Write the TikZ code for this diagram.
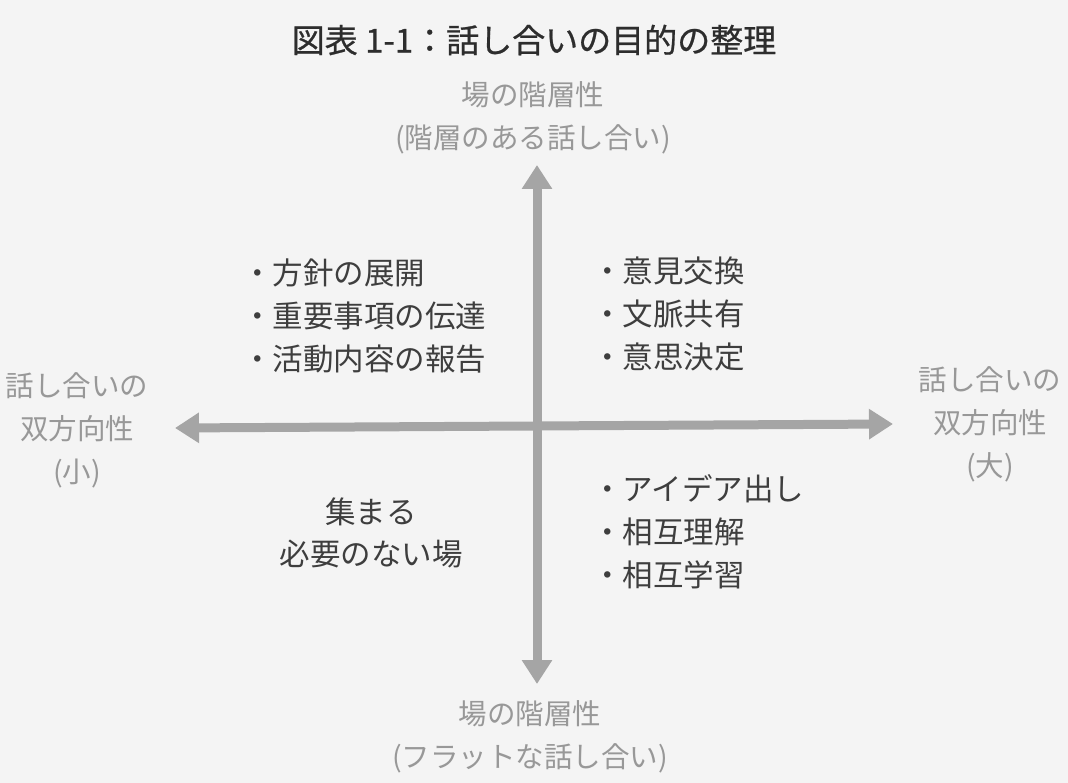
\documentclass[tikz,border=0pt]{standalone}
\usepackage{fontspec}
\setmainfont{Noto Sans CJK JP}
\newfontfamily\titlefont[FakeBold=0.7]{Noto Sans CJK JP}
\usetikzlibrary{arrows.meta}
\definecolor{bg}{RGB}{244,244,244}
\definecolor{axiscol}{RGB}{165,165,165}
\definecolor{bodytxt}{RGB}{62,62,62}
\definecolor{axistxt}{RGB}{152,152,152}
\definecolor{titletxt}{RGB}{45,45,45}
\begin{document}
\begin{tikzpicture}[x=1pt,y=-1pt,
  axisline/.style={draw=axiscol,line width=9pt,
    arrows={Triangle[width=29pt,length=24pt]-Triangle[width=29pt,length=24pt]}},
  axislabel/.style={text=axistxt,align=center,inner sep=0pt,
    font=\fontsize{28.5}{43}\selectfont},
  itemlist/.style={text=bodytxt,align=left,inner sep=0pt,anchor=west,
    font=\fontsize{30.5}{43}\selectfont},
  titlestyle/.style={text=titletxt,inner sep=0pt,
    font=\titlefont\fontsize{33}{38}\selectfont}]
\fill[bg] (0,0) rectangle (1068,783);
\useasboundingbox (0,0) rectangle (1068,783);

% axes end points
\coordinate (top) at (537,165);
\coordinate (bottom) at (537,684);
\coordinate (left) at (175,428);
\coordinate (right) at (893,424);

\draw[axisline] (left) -- (right);
\draw[axisline] (bottom) -- (top);

% title
\node[titlestyle] (title) at (534,40) {図表 1-1：話し合いの目的の整理};

% axis labels
\node[axislabel] (toplab) at (533,118) {場の階層性\\(階層のある話し合い)};
\node[axislabel] (botlab) at (530,737) {場の階層性\\(フラットな話し合い)};
\node[axislabel] (leftlab) at (77,430) {話し合いの\\双方向性\\(小)};
\node[axislabel] (rightlab) at (990,424) {話し合いの\\双方向性\\(大)};

% quadrant contents
\node[itemlist] (ul) at (242,316) {・方針の展開\\・重要事項の伝達\\・活動内容の報告};
\node[itemlist] (ur) at (592,314) {・意見交換\\・文脈共有\\・意思決定};
\node[itemlist] (lr) at (592,532) {・アイデア出し\\・相互理解\\・相互学習};
\node[text=bodytxt,align=center,inner sep=0pt,
  font=\fontsize{30.5}{42}\selectfont] (ll) at (371,533) {集まる\\必要のない場};
\end{tikzpicture}
\end{document}
